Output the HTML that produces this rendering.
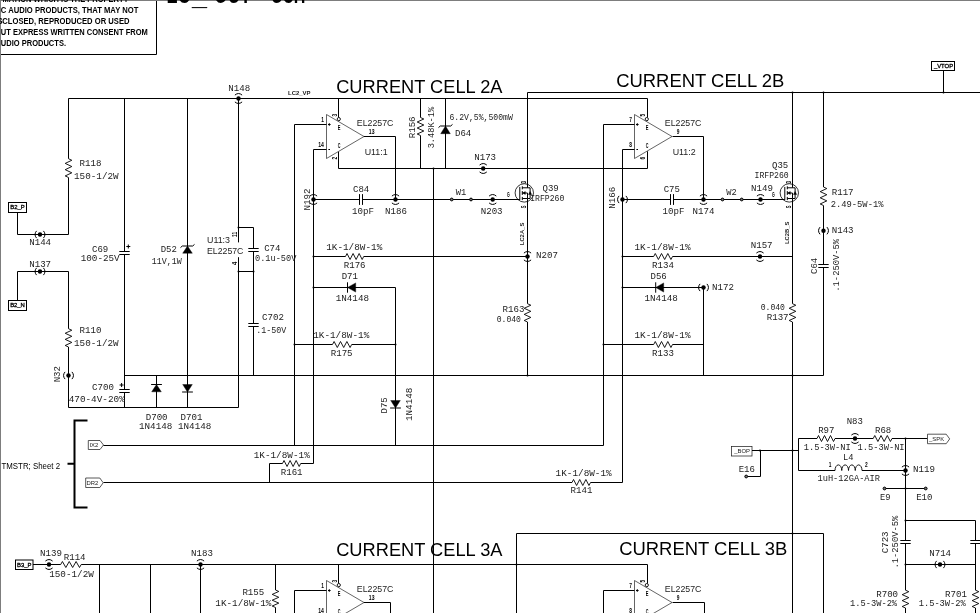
<!DOCTYPE html>
<html lang="en"><head><meta charset="utf-8">
<title>LC_OUT schematic - current cells 2A / 2B</title>
<style>
html,body{margin:0;padding:0;background:#fff}
body{width:980px;height:613px;overflow:hidden}
svg{display:block}
path,rect,circle{fill:none;stroke:#000;stroke-width:1}
.g{stroke:#7d7d7d}
.z{stroke-width:.9;stroke-linejoin:miter}
.a{stroke-width:1}
.k{stroke-width:1}
.t{stroke-width:.7;stroke:#222}
.w{stroke-width:2}
.q{stroke-width:.8}
.d{fill:#000;stroke:none}
.f{fill:#000;stroke:#000;stroke-width:.4}
.o{fill:#777;stroke-width:1}
.ow{fill:#fff;stroke-width:.9}
.b{fill:#fff;stroke-width:1}
text{fill:#000;font-family:"Liberation Mono",monospace;font-size:9px;white-space:pre}
.m{fill:#1c1c1c}
.s{font-family:"Liberation Sans",sans-serif;font-size:8.9px;fill:#1c1c1c}
.u{font-family:"Liberation Sans",sans-serif;font-size:8.6px}
.c{font-family:"Liberation Sans",sans-serif;font-size:17.6px;stroke:none;fill:#000}
.T{font-family:"Liberation Sans",sans-serif;font-size:27px;font-weight:bold}
.h{font-family:"Liberation Sans",sans-serif;font-size:8.5px;font-weight:bold}
.n{font-family:"Liberation Sans",sans-serif;font-size:6.3px;font-weight:bold}
.p{font-family:"Liberation Sans",sans-serif;font-size:5.9px;stroke:#000;stroke-width:.3px}
.l{font-family:"Liberation Sans",sans-serif;font-size:5.3px;font-weight:bold;fill:#222}
.pl{font-family:"Liberation Sans",sans-serif;font-size:5.9px;fill:#222}
.pp{stroke-width:.75;stroke:#222}
</style></head>
<body>
<svg width="980" height="613" viewBox="0 0 980 613">
<rect x="0" y="0" width="980" height="613" style="fill:#fff;stroke:none"/>
<path class="g" d="M0 0.5H980M0.5 0V613"/>
<path d="M1 54.5H156.5V1"/>
<path d="M68.5 98.5L647.5 98.5"/>
<path class="z" d="M68.5 158.7L71.8 160.27L65.2 163.4L71.8 166.53L65.2 169.67L71.8 172.8L65.2 175.93L68.5 177.5"/>
<path d="M68.5 98.5L68.5 158.7"/>
<path d="M68.5 177.5L68.5 234.5"/>
<path d="M17.5 234.5L68.5 234.5"/>
<path d="M17.5 212.5L17.5 234.5"/>
<rect class="b" x="8.5" y="202.5" width="18" height="10"/>
<circle class="d" cx="40" cy="234.5" r="2.2"/>
<path class="a" d="M36.55 230.9A5.6 5.6 0 0 0 36.55 238.1"/>
<path class="a" d="M43.45 230.9A5.6 5.6 0 0 1 43.45 238.1"/>
<circle class="d" cx="40" cy="271.5" r="2.2"/>
<path class="a" d="M36.55 267.9A5.6 5.6 0 0 0 36.55 275.1"/>
<path class="a" d="M43.45 267.9A5.6 5.6 0 0 1 43.45 275.1"/>
<path d="M17.5 271.5L68.5 271.5"/>
<path d="M17.5 271.5L17.5 300.5"/>
<rect class="b" x="8.5" y="300.5" width="18" height="10"/>
<path class="z" d="M68.5 328.7L71.8 330.22L65.2 333.27L71.8 336.32L65.2 339.38L71.8 342.43L65.2 345.48L68.5 347"/>
<path d="M68.5 271.5L68.5 328.7"/>
<path d="M68.5 347L68.5 407.5"/>
<circle class="d" cx="68.5" cy="375.5" r="2.2"/>
<path class="a" d="M65.05 371.9A5.6 5.6 0 0 0 65.05 379.1"/>
<path class="a" d="M71.95 371.9A5.6 5.6 0 0 1 71.95 379.1"/>
<path d="M68.5 407.5L238.5 407.5"/>
<path class="k" d="M119.3 251.5L129.7 251.5"/>
<path class="k" d="M119.3 254.5L129.7 254.5"/>
<path class="k" d="M119.3 389.5L129.7 389.5"/>
<path class="k" d="M119.3 392.5L129.7 392.5"/>
<path d="M124.5 98.5L124.5 251.5"/>
<path d="M124.5 254.5L124.5 389.5"/>
<path d="M124.5 392.5L124.5 407.5"/>
<path class="k" d="M126.3 246.5H130.3M128.3 244.5V248.5"/>
<path class="k" d="M119.6 385H123.6M121.6 383V387"/>
<path d="M187.5 98.5L187.5 407.5"/>
<path class="f" d="M182.7 253.2L192.3 253.2L187.5 246Z"/>
<path class="k" d="M180.5 247.6L182.3 246L192.7 246L194.5 244.4"/>
<path class="f" d="M182.7 384.5L192.3 384.5L187.5 392Z"/>
<path class="k" d="M182.1 392L192.9 392"/>
<path d="M156.5 375.5L156.5 407.5"/>
<path class="f" d="M151.7 391.8L161.3 391.8L156.5 384.5Z"/>
<path class="k" d="M151.1 384.5L161.9 384.5"/>
<path d="M238.5 98.5L238.5 242.4"/>
<path d="M238.5 257.2L238.5 407.5"/>
<circle class="d" cx="238.5" cy="98.5" r="2.2"/>
<path class="a" d="M234.9 95.05A5.6 5.6 0 0 1 242.1 95.05"/>
<path class="a" d="M234.9 101.95A5.6 5.6 0 0 0 242.1 101.95"/>
<circle class="d" cx="238.5" cy="227.5" r="1"/>
<circle class="d" cx="238.5" cy="271.5" r="1"/>
<path d="M124.5 375.5L823.5 375.5"/>
<path d="M238.5 227.5L253.5 227.5"/>
<path d="M238.5 271.5L253.5 271.5"/>
<path class="k" d="M248.3 248.5L258.7 248.5"/>
<path class="k" d="M248.3 251.5L258.7 251.5"/>
<path class="k" d="M248.3 323.5L258.7 323.5"/>
<path class="k" d="M248.3 326.5L258.7 326.5"/>
<path d="M253.5 227.5L253.5 248.5"/>
<path d="M253.5 251.5L253.5 323.5"/>
<path d="M253.5 326.5L253.5 375.5"/>
<circle class="d" cx="253.5" cy="271.5" r="1"/>
<path class="t" d="M326.5 114.5L326.5 158.5L364 136.5Z"/>
<circle class="ow" cx="338.8" cy="119.1" r="1.6"/>
<path class="a" d="M328 124.5h2.6M329.3 123.2v2.6"/>
<path class="a" d="M328.4 149.5h1.6"/>
<path d="M338.5 98.5L338.5 117.4"/>
<path d="M294.5 124.5L326.5 124.5"/>
<path d="M294.5 124.5L294.5 445.5"/>
<path d="M313.5 149.5L326.5 149.5"/>
<path d="M313.5 149.5L313.5 463.5"/>
<path d="M338.5 151.8L338.5 168.5"/>
<path d="M338.5 168.5L647.5 168.5"/>
<path d="M364 136.5L395.5 136.5"/>
<path d="M395.5 136.5L395.5 199.5"/>
<path class="k" d="M359.5 194.1L359.5 204.9"/>
<path class="k" d="M362.5 194.1L362.5 204.9"/>
<path d="M313.5 199.5L359.5 199.5"/>
<path d="M362.5 199.5L519.8 199.5"/>
<circle class="d" cx="313.5" cy="199.5" r="2.2"/>
<path class="a" d="M309.9 196.05A5.6 5.6 0 0 1 317.1 196.05"/>
<path class="a" d="M309.9 202.95A5.6 5.6 0 0 0 317.1 202.95"/>
<circle class="d" cx="395.5" cy="199.5" r="2.2"/>
<path class="a" d="M391.9 196.05A5.6 5.6 0 0 1 399.1 196.05"/>
<path class="a" d="M391.9 202.95A5.6 5.6 0 0 0 399.1 202.95"/>
<circle class="o" cx="451.7" cy="199.5" r="1.4"/>
<circle class="o" cx="471" cy="199.5" r="1.4"/>
<circle class="d" cx="492.7" cy="199.5" r="2.2"/>
<path class="a" d="M489.1 196.05A5.6 5.6 0 0 1 496.3 196.05"/>
<path class="a" d="M489.1 202.95A5.6 5.6 0 0 0 496.3 202.95"/>
<path class="z" d="M420.5 117.5L423.8 119L417.2 122L423.8 125L417.2 128L423.8 131L417.2 134L420.5 135.5"/>
<path d="M420.5 98.5L420.5 117.5"/>
<path d="M420.5 135.5L420.5 168.5"/>
<path d="M445.5 98.5L445.5 168.5"/>
<path class="f" d="M440.7 133.7L450.3 133.7L445.5 126Z"/>
<path class="k" d="M438.5 127.6L440.3 126L450.7 126L452.5 124.4"/>
<circle class="d" cx="433.5" cy="168.5" r="1"/>
<path d="M433.5 168.5L433.5 613"/>
<circle class="d" cx="483.2" cy="168.5" r="2.2"/>
<path class="a" d="M479.6 165.05A5.6 5.6 0 0 1 486.8 165.05"/>
<path class="a" d="M479.6 171.95A5.6 5.6 0 0 0 486.8 171.95"/>
<circle class="q" cx="524.3" cy="192.9" r="9.2"/>
<path class="k" d="M519.8 186.9L519.8 199.9"/>
<path class="k" d="M522.3 186.3L522.3 189.3"/>
<path class="k" d="M522.3 191.1L522.3 194.9"/>
<path class="k" d="M522.3 196.9L522.3 200.1"/>
<path class="k" d="M522.3 187.8L527.5 187.8"/>
<path class="k" d="M522.3 193L527.5 193"/>
<path class="k" d="M522.3 198.5L527.5 198.5"/>
<path class="k" d="M527.5 193L527.5 198.5"/>
<path class="f" d="M522.7 193L525.3 191.5L525.3 194.5Z"/>
<path class="k" d="M527.5 187.8L530.1 187.8L530.1 198.5L527.5 198.5"/>
<path class="f" d="M528.5 194.5L531.7 194.5L530.1 191.5Z"/>
<path class="z" d="M527.5 303.7L530.8 305.22L524.2 308.27L530.8 311.32L524.2 314.38L530.8 317.43L524.2 320.48L527.5 322"/>
<path d="M527.5 92.5L527.5 187.8"/>
<path d="M527.5 198.5L527.5 303.7"/>
<path d="M527.5 322L527.5 375.5"/>
<circle class="d" cx="527.5" cy="256.5" r="2.2"/>
<path class="a" d="M523.9 253.05A5.6 5.6 0 0 1 531.1 253.05"/>
<path class="a" d="M523.9 259.95A5.6 5.6 0 0 0 531.1 259.95"/>
<path class="z" d="M345.5 256.5L347.02 253.5L350.05 259.5L353.08 253.5L356.12 259.5L359.15 253.5L362.18 259.5L363.7 256.5"/>
<path d="M313.5 256.5L345.5 256.5"/>
<path d="M363.7 256.5L527.5 256.5"/>
<circle class="d" cx="313.5" cy="256.5" r="1"/>
<path d="M313.5 287.5L395.5 287.5"/>
<circle class="d" cx="313.5" cy="287.5" r="1"/>
<path class="f" d="M355.7 282.9L355.7 292.1L347.5 287.5Z"/>
<path class="k" d="M347.5 282.3L347.5 292.7"/>
<path d="M395.5 287.5L395.5 445.5"/>
<path class="z" d="M332.5 344.5L334.1 341.5L337.3 347.5L340.5 341.5L343.7 347.5L346.9 341.5L350.1 347.5L351.7 344.5"/>
<path d="M294.5 344.5L332.5 344.5"/>
<path d="M351.7 344.5L395.5 344.5"/>
<circle class="d" cx="294.5" cy="344.5" r="1"/>
<circle class="d" cx="395.5" cy="344.5" r="1"/>
<path class="f" d="M390.7 400.5L400.3 400.5L395.5 408Z"/>
<path class="k" d="M390.1 408L400.9 408"/>
<path class="w" d="M87.5 420.5H74.5V507.5H87.5M67.5 463.8H74.5"/>
<path class="b pp" d="M88.3 440.5L100 440.5L103.5 445L100 449.5L88.3 449.5Z"/>
<path class="b pp" d="M85.7 478L99.8 478L103.2 482.75L99.8 487.5L85.7 487.5Z"/>
<path d="M103.5 445.5L603.5 445.5"/>
<path class="z" d="M572 482.5L573.54 479.5L576.62 485.5L579.71 479.5L582.79 485.5L585.88 479.5L588.96 485.5L590.5 482.5"/>
<path d="M103.5 482.5L572 482.5"/>
<path d="M590.5 482.5L622.5 482.5"/>
<path class="z" d="M282.5 463.5L284.02 460.5L287.05 466.5L290.08 460.5L293.12 466.5L296.15 460.5L299.18 466.5L300.7 463.5"/>
<path d="M269.5 463.5L282.5 463.5"/>
<path d="M300.7 463.5L313.5 463.5"/>
<path d="M269.5 463.5L269.5 482.5"/>
<path d="M527.5 92.5L980 92.5"/>
<path class="t" d="M634.5 114.5L634.5 158.5L672 136.5Z"/>
<circle class="ow" cx="646.8" cy="119.1" r="1.6"/>
<path class="a" d="M636 124.5h2.6M637.3 123.2v2.6"/>
<path class="a" d="M636.4 149.5h1.6"/>
<path d="M647.5 98.5L647.5 117.4"/>
<path d="M647.5 151.3L647.5 168.5"/>
<path d="M603.5 124.5L634.5 124.5"/>
<path d="M603.5 124.5L603.5 445.5"/>
<path d="M622.5 149.5L634.5 149.5"/>
<path d="M622.5 149.5L622.5 482.5"/>
<path d="M672.5 136.5L703.5 136.5"/>
<path d="M703.5 136.5L703.5 199.5"/>
<path class="k" d="M670.5 194.1L670.5 204.9"/>
<path class="k" d="M673.5 194.1L673.5 204.9"/>
<path d="M622.5 199.5L670.5 199.5"/>
<path d="M673.5 199.5L784.8 199.5"/>
<circle class="d" cx="622.5" cy="199.5" r="2.2"/>
<path class="a" d="M619.05 195.9A5.6 5.6 0 0 0 619.05 203.1"/>
<path class="a" d="M625.95 195.9A5.6 5.6 0 0 1 625.95 203.1"/>
<circle class="d" cx="703.5" cy="199.5" r="2.2"/>
<path class="a" d="M699.9 196.05A5.6 5.6 0 0 1 707.1 196.05"/>
<path class="a" d="M699.9 202.95A5.6 5.6 0 0 0 707.1 202.95"/>
<circle class="o" cx="722.5" cy="199.5" r="1.4"/>
<circle class="o" cx="741.7" cy="199.5" r="1.4"/>
<circle class="d" cx="760.5" cy="199.5" r="2.2"/>
<path class="a" d="M756.9 196.05A5.6 5.6 0 0 1 764.1 196.05"/>
<path class="a" d="M756.9 202.95A5.6 5.6 0 0 0 764.1 202.95"/>
<circle class="q" cx="789.3" cy="192.9" r="9.2"/>
<path class="k" d="M784.8 186.9L784.8 199.9"/>
<path class="k" d="M787.3 186.3L787.3 189.3"/>
<path class="k" d="M787.3 191.1L787.3 194.9"/>
<path class="k" d="M787.3 196.9L787.3 200.1"/>
<path class="k" d="M787.3 187.8L792.5 187.8"/>
<path class="k" d="M787.3 193L792.5 193"/>
<path class="k" d="M787.3 198.5L792.5 198.5"/>
<path class="k" d="M792.5 193L792.5 198.5"/>
<path class="f" d="M787.7 193L790.3 191.5L790.3 194.5Z"/>
<path class="k" d="M792.5 187.8L795.1 187.8L795.1 198.5L792.5 198.5"/>
<path class="f" d="M793.5 194.5L796.7 194.5L795.1 191.5Z"/>
<path class="z" d="M792.5 303.7L795.8 305.22L789.2 308.27L795.8 311.32L789.2 314.38L795.8 317.43L789.2 320.48L792.5 322"/>
<path d="M792.5 92.5L792.5 187.8"/>
<path d="M792.5 198.5L792.5 303.7"/>
<path d="M792.5 322L792.5 613"/>
<circle class="d" cx="792.5" cy="92.5" r="1"/>
<path class="z" d="M653.7 256.5L655.27 253.5L658.4 259.5L661.53 253.5L664.67 259.5L667.8 253.5L670.93 259.5L672.5 256.5"/>
<path d="M622.5 256.5L653.7 256.5"/>
<path d="M672.5 256.5L792.5 256.5"/>
<circle class="d" cx="622.5" cy="256.5" r="1"/>
<circle class="d" cx="760" cy="256.5" r="2.2"/>
<path class="a" d="M756.4 253.05A5.6 5.6 0 0 1 763.6 253.05"/>
<path class="a" d="M756.4 259.95A5.6 5.6 0 0 0 763.6 259.95"/>
<path d="M622.5 287.5L703.5 287.5"/>
<circle class="d" cx="622.5" cy="287.5" r="1"/>
<path class="f" d="M663.7 282.9L663.7 292.1L655.7 287.5Z"/>
<path class="k" d="M655.7 282.3L655.7 292.7"/>
<circle class="d" cx="703.5" cy="287.5" r="2.2"/>
<path class="a" d="M700.05 283.9A5.6 5.6 0 0 0 700.05 291.1"/>
<path class="a" d="M706.95 283.9A5.6 5.6 0 0 1 706.95 291.1"/>
<path d="M703.5 287.5L703.5 375.5"/>
<path class="z" d="M653.7 344.5L655.27 341.5L658.4 347.5L661.53 341.5L664.67 347.5L667.8 341.5L670.93 347.5L672.5 344.5"/>
<path d="M603.5 344.5L653.7 344.5"/>
<path d="M672.5 344.5L703.5 344.5"/>
<circle class="d" cx="603.5" cy="344.5" r="1"/>
<circle class="d" cx="792.5" cy="375.5" r="1"/>
<circle class="d" cx="527.5" cy="375.5" r="1"/>
<path class="z" d="M823.5 187L826.8 188.54L820.2 191.62L826.8 194.71L820.2 197.79L826.8 200.88L820.2 203.96L823.5 205.5"/>
<path class="k" d="M818.3 264.5L828.7 264.5"/>
<path class="k" d="M818.3 267.5L828.7 267.5"/>
<path d="M823.5 92.5L823.5 187"/>
<path d="M823.5 205.5L823.5 264.5"/>
<path d="M823.5 267.5L823.5 375.5"/>
<circle class="d" cx="823.5" cy="92.5" r="1"/>
<circle class="d" cx="823.5" cy="230.7" r="2.2"/>
<path class="a" d="M820.05 227.1A5.6 5.6 0 0 0 820.05 234.3"/>
<path class="a" d="M826.95 227.1A5.6 5.6 0 0 1 826.95 234.3"/>
<rect class="b" x="931.5" y="61.5" width="23" height="9"/>
<path d="M943.5 70.5L943.5 92.5"/>
<circle class="d" cx="943.5" cy="92.5" r="1"/>
<rect class="b pp" x="731.5" y="446.5" width="20.5" height="9.5"/>
<path d="M752 450.5L798.5 450.5"/>
<circle class="d" cx="760" cy="450.5" r="1"/>
<circle class="d" cx="792.5" cy="450.5" r="1"/>
<path d="M760.5 450.5L760.5 476.5"/>
<path d="M747.5 476.5L760.5 476.5"/>
<circle class="o" cx="746.2" cy="476.5" r="1.4"/>
<path d="M798.5 438.5L798.5 470.5"/>
<path class="z" d="M817 438.5L818.5 435.5L821.5 441.5L824.5 435.5L827.5 441.5L830.5 435.5L833.5 441.5L835 438.5"/>
<path class="z" d="M873.2 438.5L874.77 435.5L877.9 441.5L881.03 435.5L884.17 441.5L887.3 435.5L890.43 441.5L892 438.5"/>
<path d="M798.5 438.5L817 438.5"/>
<path d="M835 438.5L873.2 438.5"/>
<path d="M892 438.5L927.5 438.5"/>
<circle class="d" cx="855" cy="438.5" r="2.2"/>
<path class="a" d="M851.4 435.05A5.6 5.6 0 0 1 858.6 435.05"/>
<path class="a" d="M851.4 441.95A5.6 5.6 0 0 0 858.6 441.95"/>
<path class="b pp" d="M927.5 434.2L946.2 434.2L949.7 438.95L946.2 443.7L927.5 443.7Z"/>
<path d="M798.5 470.5L835 470.5"/>
<path class="z" d="M835 470.5a3.375 5.6 0 0 1 6.75 0a3.375 5.6 0 0 1 6.75 0a3.375 5.6 0 0 1 6.75 0a3.375 5.6 0 0 1 6.75 0"/>
<path d="M862 470.5L905.5 470.5"/>
<path class="k" d="M900.3 540.5L910.7 540.5"/>
<path class="k" d="M900.3 543.5L910.7 543.5"/>
<path class="z" d="M905.5 590.2L908.8 591.68L902.2 594.65L908.8 597.62L902.2 600.58L908.8 603.55L902.2 606.52L905.5 608"/>
<path d="M905.5 438.5L905.5 540.5"/>
<path d="M905.5 543.5L905.5 590.2"/>
<path d="M905.5 608L905.5 613"/>
<circle class="d" cx="905.5" cy="438.5" r="1"/>
<circle class="d" cx="905.5" cy="470.5" r="2.2"/>
<path class="a" d="M901.9 467.05A5.6 5.6 0 0 1 909.1 467.05"/>
<path class="a" d="M901.9 473.95A5.6 5.6 0 0 0 909.1 473.95"/>
<path d="M885.8 488.5L924.4 488.5"/>
<circle class="o" cx="884.5" cy="488.5" r="1.4"/>
<circle class="o" cx="925.7" cy="488.5" r="1.4"/>
<circle class="d" cx="905.5" cy="488.5" r="1"/>
<path d="M905.5 520.5L975.5 520.5"/>
<circle class="d" cx="905.5" cy="520.5" r="1"/>
<path class="k" d="M970.3 540.5L980.7 540.5"/>
<path class="k" d="M970.3 543.5L980.7 543.5"/>
<path class="z" d="M975.5 590.2L978.8 591.68L972.2 594.65L978.8 597.62L972.2 600.58L978.8 603.55L972.2 606.52L975.5 608"/>
<path d="M975.5 520.5L975.5 540.5"/>
<path d="M975.5 543.5L975.5 590.2"/>
<path d="M975.5 608L975.5 613"/>
<path d="M905.5 564.5L975.5 564.5"/>
<circle class="d" cx="905.5" cy="564.5" r="1"/>
<circle class="d" cx="940" cy="564.5" r="2.2"/>
<path class="a" d="M936.55 560.9A5.6 5.6 0 0 0 936.55 568.1"/>
<path class="a" d="M943.45 560.9A5.6 5.6 0 0 1 943.45 568.1"/>
<rect class="b" x="15.5" y="560" width="17.5" height="9.5"/>
<path class="z" d="M60.7 564.5L62.41 561.5L65.83 567.5L69.24 561.5L72.66 567.5L76.08 561.5L79.49 567.5L81.2 564.5"/>
<path d="M33 564.5L60.7 564.5"/>
<path d="M81.2 564.5L647.5 564.5"/>
<circle class="d" cx="49" cy="564.5" r="2.2"/>
<path class="a" d="M45.4 561.05A5.6 5.6 0 0 1 52.6 561.05"/>
<path class="a" d="M45.4 567.95A5.6 5.6 0 0 0 52.6 567.95"/>
<path d="M99.5 564.5L99.5 613"/>
<path d="M150.5 564.5L150.5 613"/>
<path d="M200.5 564.5L200.5 613"/>
<circle class="d" cx="200.5" cy="564.5" r="2.2"/>
<path class="a" d="M196.9 561.05A5.6 5.6 0 0 1 204.1 561.05"/>
<path class="a" d="M196.9 567.95A5.6 5.6 0 0 0 204.1 567.95"/>
<path class="z" d="M275.5 590L278.8 591.46L272.2 594.38L278.8 597.29L272.2 600.21L278.8 603.12L272.2 606.04L275.5 607.5"/>
<path d="M275.5 564.5L275.5 590"/>
<path d="M275.5 607.5L275.5 613"/>
<path class="t" d="M326.5 580.5L326.5 624.5L364 602.5Z"/>
<circle class="ow" cx="338.8" cy="585.1" r="1.6"/>
<path class="a" d="M328 590.5h2.6M329.3 589.2v2.6"/>
<path class="a" d="M328.4 615.5h1.6"/>
<path d="M338.5 564.5L338.5 583.4"/>
<path d="M294.5 590.5L326.5 590.5"/>
<path d="M294.5 590.5L294.5 613"/>
<path d="M364 602.5L390.5 602.5"/>
<path d="M390.5 602.5L390.5 613"/>
<path d="M516.5 613V533.5H823.5V613"/>
<circle class="d" cx="516.5" cy="564.5" r="1"/>
<circle class="d" cx="792.5" cy="533.5" r="1"/>
<path class="t" d="M634.5 580.5L634.5 624.5L672 602.5Z"/>
<circle class="ow" cx="646.8" cy="585.1" r="1.6"/>
<path class="a" d="M636 590.5h2.6M637.3 589.2v2.6"/>
<path class="a" d="M636.4 615.5h1.6"/>
<path d="M647.5 564.5L647.5 583.4"/>
<path d="M603.5 590.5L634.5 590.5"/>
<path d="M603.5 590.5L603.5 613"/>
<path d="M672.5 602.5L704.5 602.5"/>
<path d="M704.5 602.5L704.5 613"/>
<g style="opacity:.999">
<text class="h" x="2.5" y="2" textLength="126" lengthAdjust="spacingAndGlyphs">MATION WHICH IS THE PROPERTY</text>
<text class="h" x="0.8" y="12.9" textLength="137.6" lengthAdjust="spacingAndGlyphs">C AUDIO PRODUCTS, THAT MAY NOT</text>
<text class="h" x="2.3" y="23.8" textLength="127.2" lengthAdjust="spacingAndGlyphs">CLOSED, REPRODUCED OR USED</text>
<text class="h" x="0.8" y="34.7" textLength="147" lengthAdjust="spacingAndGlyphs">UT EXPRESS WRITTEN CONSENT FROM</text>
<text class="h" x="0.8" y="45.7" textLength="65.2" lengthAdjust="spacingAndGlyphs">UDIO PRODUCTS.</text>
<text class="h" x="-3" y="23.8">S</text>
<text class="T" x="166.5" y="2.9" textLength="24" lengthAdjust="spacingAndGlyphs">LC</text>
<text class="T" x="192" y="4.6" textLength="15" lengthAdjust="spacingAndGlyphs">_</text>
<text class="T" x="214" y="2.9" textLength="37" lengthAdjust="spacingAndGlyphs">OUT</text>
<text class="T" x="271.5" y="2.9" textLength="34" lengthAdjust="spacingAndGlyphs">SCH</text>
<text class="m" x="79.5" y="166" textLength="21.9" lengthAdjust="spacingAndGlyphs">R118</text>
<text class="m" x="74" y="178.7" textLength="44.7" lengthAdjust="spacingAndGlyphs">150-1/2W</text>
<text class="p" x="17.5" y="209.25" text-anchor="middle">B2_P</text>
<text class="m" x="29.2" y="245.2" textLength="21.9" lengthAdjust="spacingAndGlyphs">N144</text>
<text class="m" x="29.2" y="266.7" textLength="21.9" lengthAdjust="spacingAndGlyphs">N137</text>
<text class="p" x="17.5" y="307.25" text-anchor="middle">B2_N</text>
<text class="m" x="79.5" y="333" textLength="21.9" lengthAdjust="spacingAndGlyphs">R110</text>
<text class="m" x="74" y="345.5" textLength="44.7" lengthAdjust="spacingAndGlyphs">150-1/2W</text>
<text class="m" x="60.3" y="382.3" textLength="16.2" lengthAdjust="spacingAndGlyphs" transform="rotate(-90 60.3 382.3)">N32</text>
<text class="m" x="92" y="251.7" textLength="16.2" lengthAdjust="spacingAndGlyphs">C69</text>
<text class="m" x="80.7" y="260.7" textLength="39" lengthAdjust="spacingAndGlyphs">100-25V</text>
<text class="m" x="92" y="389.5" textLength="21.9" lengthAdjust="spacingAndGlyphs">C700</text>
<text class="m" x="68.7" y="402" textLength="56.1" lengthAdjust="spacingAndGlyphs">470-4V-20%</text>
<text class="m" x="160.7" y="251.7" textLength="16.2" lengthAdjust="spacingAndGlyphs">D52</text>
<text class="m" x="151.7" y="263.7" textLength="30" lengthAdjust="spacingAndGlyphs">11V,1W</text>
<text class="m" x="145.7" y="420" textLength="21.9" lengthAdjust="spacingAndGlyphs">D700</text>
<text class="m" x="139" y="429.2" textLength="33.3" lengthAdjust="spacingAndGlyphs">1N4148</text>
<text class="m" x="180.5" y="420" textLength="21.9" lengthAdjust="spacingAndGlyphs">D701</text>
<text class="m" x="178" y="429.2" textLength="33.3" lengthAdjust="spacingAndGlyphs">1N4148</text>
<text class="m" x="228.3" y="90.5" textLength="21.9" lengthAdjust="spacingAndGlyphs">N148</text>
<text class="l" x="288" y="95" textLength="22.5" lengthAdjust="spacingAndGlyphs">LC2_VP</text>
<text class="s" x="207" y="243">U11:3</text>
<text class="s" x="207" y="253.7" textLength="36.4" lengthAdjust="spacingAndGlyphs">EL2257C</text>
<text class="n" x="236.6" y="236.9" textLength="5.2" lengthAdjust="spacingAndGlyphs" transform="rotate(-90 236.6 236.9)">11</text>
<text class="n" x="236.6" y="264.9" textLength="3.4" lengthAdjust="spacingAndGlyphs" transform="rotate(-90 236.6 264.9)">4</text>
<text class="m" x="264.2" y="251.2" textLength="16.2" lengthAdjust="spacingAndGlyphs">C74</text>
<text class="m" x="255" y="261.2" textLength="41.4" lengthAdjust="spacingAndGlyphs">0.1u-50V</text>
<text class="m" x="262" y="320" textLength="21.9" lengthAdjust="spacingAndGlyphs">C702</text>
<text class="m" x="256.2" y="333" textLength="30" lengthAdjust="spacingAndGlyphs">.1-50V</text>
<text class="c" x="336.2" y="93.2" textLength="166.3" lengthAdjust="spacingAndGlyphs">CURRENT CELL 2A</text>
<text class="n" x="336.8" y="116.4" textLength="2.7" lengthAdjust="spacingAndGlyphs" transform="rotate(-90 336.8 116.4)">3</text>
<text class="n" x="337" y="159.4" textLength="2.7" lengthAdjust="spacingAndGlyphs" transform="rotate(-90 337 159.4)">2</text>
<text class="n" x="323.9" y="121.5" textLength="2.7" lengthAdjust="spacingAndGlyphs" text-anchor="end">1</text>
<text class="n" x="323.9" y="146.5" textLength="5.7" lengthAdjust="spacingAndGlyphs" text-anchor="end">14</text>
<text class="n" x="368.8" y="134.3" textLength="5.7" lengthAdjust="spacingAndGlyphs">13</text>
<text class="n" x="337.7" y="129.5" textLength="2.7" lengthAdjust="spacingAndGlyphs">E</text>
<text class="n" x="337.7" y="148.1" textLength="2.7" lengthAdjust="spacingAndGlyphs">C</text>
<text class="s" x="356.8" y="125.5" textLength="36.6" lengthAdjust="spacingAndGlyphs">EL2257C</text>
<text class="s" x="364.7" y="154.7">U11:1</text>
<text class="m" x="309.5" y="210.5" textLength="21.9" lengthAdjust="spacingAndGlyphs" transform="rotate(-90 309.5 210.5)">N192</text>
<text class="m" x="353" y="191.7" textLength="16.2" lengthAdjust="spacingAndGlyphs">C84</text>
<text class="m" x="352" y="213.7" textLength="21.9" lengthAdjust="spacingAndGlyphs">10pF</text>
<text class="m" x="385" y="213.7" textLength="21.9" lengthAdjust="spacingAndGlyphs">N186</text>
<text class="m" x="455.7" y="195" textLength="10.5" lengthAdjust="spacingAndGlyphs">W1</text>
<text class="m" x="480.7" y="213.7" textLength="21.9" lengthAdjust="spacingAndGlyphs">N203</text>
<text class="m" x="415.5" y="138.3" textLength="21.9" lengthAdjust="spacingAndGlyphs" transform="rotate(-90 415.5 138.3)">R156</text>
<text class="m" x="434.5" y="148.3" textLength="41.4" lengthAdjust="spacingAndGlyphs" transform="rotate(-90 434.5 148.3)">3.48K-1%</text>
<text class="m" x="449.5" y="120" textLength="63.3" lengthAdjust="spacingAndGlyphs">6.2V,5%,500mW</text>
<text class="m" x="455" y="136" textLength="16.2" lengthAdjust="spacingAndGlyphs">D64</text>
<text class="m" x="474.2" y="160" textLength="21.9" lengthAdjust="spacingAndGlyphs">N173</text>
<text class="n" x="526.3" y="183.5" textLength="2.7" lengthAdjust="spacingAndGlyphs" transform="rotate(-90 526.3 183.5)">D</text>
<text class="n" x="526.3" y="208.3" textLength="2.7" lengthAdjust="spacingAndGlyphs" transform="rotate(-90 526.3 208.3)">S</text>
<text class="n" x="506.9" y="196.9" textLength="2.7" lengthAdjust="spacingAndGlyphs">G</text>
<text class="m" x="542.5" y="191" textLength="16.2" lengthAdjust="spacingAndGlyphs">Q39</text>
<text class="m" x="530.2" y="201" textLength="34.2" lengthAdjust="spacingAndGlyphs">IRFP260</text>
<text class="l" x="524.5" y="245.2" textLength="22.5" lengthAdjust="spacingAndGlyphs" transform="rotate(-90 524.5 245.2)">LC2A_S</text>
<text class="m" x="536" y="257.9" textLength="21.9" lengthAdjust="spacingAndGlyphs">N207</text>
<text class="m" x="502.5" y="311.7" textLength="21.9" lengthAdjust="spacingAndGlyphs">R163</text>
<text class="m" x="496.7" y="322" textLength="24.3" lengthAdjust="spacingAndGlyphs">0.040</text>
<text class="m" x="326.2" y="249.5" textLength="56.1" lengthAdjust="spacingAndGlyphs">1K-1/8W-1%</text>
<text class="m" x="343.7" y="268.2" textLength="21.9" lengthAdjust="spacingAndGlyphs">R176</text>
<text class="m" x="341.7" y="278.7" textLength="16.2" lengthAdjust="spacingAndGlyphs">D71</text>
<text class="m" x="335.7" y="301.2" textLength="33.3" lengthAdjust="spacingAndGlyphs">1N4148</text>
<text class="m" x="313.2" y="337.5" textLength="56.1" lengthAdjust="spacingAndGlyphs">1K-1/8W-1%</text>
<text class="m" x="330.7" y="355.7" textLength="21.9" lengthAdjust="spacingAndGlyphs">R175</text>
<text class="m" x="387" y="413.5" textLength="16.2" lengthAdjust="spacingAndGlyphs" transform="rotate(-90 387 413.5)">D75</text>
<text class="m" x="412" y="421" textLength="33.3" lengthAdjust="spacingAndGlyphs" transform="rotate(-90 412 421)">1N4148</text>
<text class="u" x="1.5" y="468.7" textLength="58.5" lengthAdjust="spacingAndGlyphs">TMSTR; Sheet 2</text>
<text class="pl" x="93.85" y="446.9" text-anchor="middle">IX2</text>
<text class="pl" x="92.45" y="484.65" text-anchor="middle">DR2</text>
<text class="m" x="253.7" y="457.5" textLength="56.1" lengthAdjust="spacingAndGlyphs">1K-1/8W-1%</text>
<text class="m" x="280.7" y="474.5" textLength="21.9" lengthAdjust="spacingAndGlyphs">R161</text>
<text class="m" x="555.6" y="476.2" textLength="56.1" lengthAdjust="spacingAndGlyphs">1K-1/8W-1%</text>
<text class="m" x="570.5" y="493.3" textLength="21.9" lengthAdjust="spacingAndGlyphs">R141</text>
<text class="c" x="616.2" y="87.2" textLength="168" lengthAdjust="spacingAndGlyphs">CURRENT CELL 2B</text>
<text class="n" x="644.8" y="116.4" textLength="2.7" lengthAdjust="spacingAndGlyphs" transform="rotate(-90 644.8 116.4)">5</text>
<text class="n" x="645" y="159.4" textLength="2.7" lengthAdjust="spacingAndGlyphs" transform="rotate(-90 645 159.4)">6</text>
<text class="n" x="631.9" y="121.5" textLength="2.7" lengthAdjust="spacingAndGlyphs" text-anchor="end">7</text>
<text class="n" x="631.9" y="146.5" textLength="2.7" lengthAdjust="spacingAndGlyphs" text-anchor="end">8</text>
<text class="n" x="676.8" y="134.3" textLength="2.7" lengthAdjust="spacingAndGlyphs">9</text>
<text class="n" x="645.7" y="129.5" textLength="2.7" lengthAdjust="spacingAndGlyphs">E</text>
<text class="n" x="645.7" y="148.1" textLength="2.7" lengthAdjust="spacingAndGlyphs">C</text>
<text class="s" x="664.8" y="125.5" textLength="36.6" lengthAdjust="spacingAndGlyphs">EL2257C</text>
<text class="s" x="672.7" y="154.7">U11:2</text>
<text class="m" x="615.5" y="208.7" textLength="21.9" lengthAdjust="spacingAndGlyphs" transform="rotate(-90 615.5 208.7)">N166</text>
<text class="m" x="663.7" y="191.7" textLength="16.2" lengthAdjust="spacingAndGlyphs">C75</text>
<text class="m" x="662.5" y="214" textLength="21.9" lengthAdjust="spacingAndGlyphs">10pF</text>
<text class="m" x="692.5" y="214" textLength="21.9" lengthAdjust="spacingAndGlyphs">N174</text>
<text class="m" x="726.2" y="195" textLength="10.5" lengthAdjust="spacingAndGlyphs">W2</text>
<text class="m" x="751" y="191.4" textLength="21.9" lengthAdjust="spacingAndGlyphs">N149</text>
<text class="n" x="791.3" y="183.5" textLength="2.7" lengthAdjust="spacingAndGlyphs" transform="rotate(-90 791.3 183.5)">D</text>
<text class="n" x="791.3" y="208.3" textLength="2.7" lengthAdjust="spacingAndGlyphs" transform="rotate(-90 791.3 208.3)">S</text>
<text class="n" x="771.9" y="196.9" textLength="2.7" lengthAdjust="spacingAndGlyphs">G</text>
<text class="m" x="772" y="168" textLength="16.2" lengthAdjust="spacingAndGlyphs">Q35</text>
<text class="m" x="754.5" y="177.5" textLength="34.2" lengthAdjust="spacingAndGlyphs">IRFP260</text>
<text class="l" x="788.6" y="244" textLength="22.5" lengthAdjust="spacingAndGlyphs" transform="rotate(-90 788.6 244)">LC2B_S</text>
<text class="m" x="750.7" y="248" textLength="21.9" lengthAdjust="spacingAndGlyphs">N157</text>
<text class="m" x="634.5" y="249.5" textLength="56.1" lengthAdjust="spacingAndGlyphs">1K-1/8W-1%</text>
<text class="m" x="652" y="268.2" textLength="21.9" lengthAdjust="spacingAndGlyphs">R134</text>
<text class="m" x="650.5" y="278.7" textLength="16.2" lengthAdjust="spacingAndGlyphs">D56</text>
<text class="m" x="644.5" y="301.2" textLength="33.3" lengthAdjust="spacingAndGlyphs">1N4148</text>
<text class="m" x="712" y="290" textLength="21.9" lengthAdjust="spacingAndGlyphs">N172</text>
<text class="m" x="634.5" y="337.5" textLength="56.1" lengthAdjust="spacingAndGlyphs">1K-1/8W-1%</text>
<text class="m" x="652" y="355.7" textLength="21.9" lengthAdjust="spacingAndGlyphs">R133</text>
<text class="m" x="760.7" y="309.5" textLength="24.3" lengthAdjust="spacingAndGlyphs">0.040</text>
<text class="m" x="766.7" y="320" textLength="21.9" lengthAdjust="spacingAndGlyphs">R137</text>
<text class="m" x="831.7" y="195" textLength="21.9" lengthAdjust="spacingAndGlyphs">R117</text>
<text class="m" x="830.7" y="206.7" textLength="52.8" lengthAdjust="spacingAndGlyphs">2.49-5W-1%</text>
<text class="m" x="831.7" y="232.7" textLength="21.9" lengthAdjust="spacingAndGlyphs">N143</text>
<text class="m" x="816.5" y="274" textLength="16.2" lengthAdjust="spacingAndGlyphs" transform="rotate(-90 816.5 274)">C64</text>
<text class="m" x="838.7" y="291.7" textLength="52.8" lengthAdjust="spacingAndGlyphs" transform="rotate(-90 838.7 291.7)">.1-250V-5%</text>
<text class="p" x="943.5" y="67.75" text-anchor="middle">_VTOP</text>
<text class="pl" x="742.2" y="453" text-anchor="middle">_BOP</text>
<text class="m" x="738.7" y="471.7" textLength="16.2" lengthAdjust="spacingAndGlyphs">E16</text>
<text class="m" x="818.2" y="432.5" textLength="16.2" lengthAdjust="spacingAndGlyphs">R97</text>
<text class="m" x="846.7" y="424.2" textLength="16.2" lengthAdjust="spacingAndGlyphs">N83</text>
<text class="m" x="875" y="432.5" textLength="16.2" lengthAdjust="spacingAndGlyphs">R68</text>
<text class="m" x="803.7" y="450" textLength="47.1" lengthAdjust="spacingAndGlyphs">1.5-3W-NI</text>
<text class="m" x="857.5" y="450" textLength="47.1" lengthAdjust="spacingAndGlyphs">1.5-3W-NI</text>
<text class="pl" x="936.55" y="440.85" text-anchor="middle">_SPK</text>
<text class="m" x="843" y="460" textLength="10.5" lengthAdjust="spacingAndGlyphs">L4</text>
<text class="n" x="828.7" y="467.3" textLength="2.7" lengthAdjust="spacingAndGlyphs">1</text>
<text class="n" x="865" y="467.3" textLength="2.7" lengthAdjust="spacingAndGlyphs">2</text>
<text class="m" x="817.5" y="480.5" textLength="62.5" lengthAdjust="spacingAndGlyphs">1uH-12GA-AIR</text>
<text class="m" x="913" y="471.9" textLength="21.9" lengthAdjust="spacingAndGlyphs">N119</text>
<text class="m" x="880" y="500" textLength="10.5" lengthAdjust="spacingAndGlyphs">E9</text>
<text class="m" x="916.2" y="500" textLength="16.2" lengthAdjust="spacingAndGlyphs">E10</text>
<text class="m" x="929.2" y="555.7" textLength="21.9" lengthAdjust="spacingAndGlyphs">N714</text>
<text class="m" x="888.3" y="553.3" textLength="21.9" lengthAdjust="spacingAndGlyphs" transform="rotate(-90 888.3 553.3)">C723</text>
<text class="m" x="898.3" y="568.5" textLength="52.8" lengthAdjust="spacingAndGlyphs" transform="rotate(-90 898.3 568.5)">.1-250V-5%</text>
<text class="m" x="876.2" y="597" textLength="21.9" lengthAdjust="spacingAndGlyphs">R700</text>
<text class="m" x="850" y="606.2" textLength="47.1" lengthAdjust="spacingAndGlyphs">1.5-3W-2%</text>
<text class="m" x="945" y="597" textLength="21.9" lengthAdjust="spacingAndGlyphs">R701</text>
<text class="m" x="918.7" y="606.2" textLength="47.1" lengthAdjust="spacingAndGlyphs">1.5-3W-2%</text>
<text class="p" x="24.25" y="566.5" text-anchor="middle">B3_P</text>
<text class="m" x="40" y="556" textLength="21.9" lengthAdjust="spacingAndGlyphs">N139</text>
<text class="m" x="63.7" y="559.7" textLength="21.9" lengthAdjust="spacingAndGlyphs">R114</text>
<text class="m" x="49.2" y="576.7" textLength="44.7" lengthAdjust="spacingAndGlyphs">150-1/2W</text>
<text class="m" x="191" y="556" textLength="21.9" lengthAdjust="spacingAndGlyphs">N183</text>
<text class="m" x="242.4" y="594.5" textLength="21.9" lengthAdjust="spacingAndGlyphs">R155</text>
<text class="m" x="215.3" y="606" textLength="56.1" lengthAdjust="spacingAndGlyphs">1K-1/8W-1%</text>
<text class="c" x="336.2" y="556.4" textLength="166.3" lengthAdjust="spacingAndGlyphs">CURRENT CELL 3A</text>
<text class="n" x="336.8" y="582.4" textLength="2.7" lengthAdjust="spacingAndGlyphs" transform="rotate(-90 336.8 582.4)">3</text>
<text class="n" x="337" y="625.4" textLength="2.7" lengthAdjust="spacingAndGlyphs" transform="rotate(-90 337 625.4)">2</text>
<text class="n" x="323.9" y="587.5" textLength="2.7" lengthAdjust="spacingAndGlyphs" text-anchor="end">1</text>
<text class="n" x="323.9" y="612.5" textLength="5.7" lengthAdjust="spacingAndGlyphs" text-anchor="end">14</text>
<text class="n" x="368.8" y="600.3" textLength="5.7" lengthAdjust="spacingAndGlyphs">13</text>
<text class="n" x="337.7" y="595.5" textLength="2.7" lengthAdjust="spacingAndGlyphs">E</text>
<text class="n" x="337.7" y="614.1" textLength="2.7" lengthAdjust="spacingAndGlyphs">C</text>
<text class="s" x="356.8" y="591.5" textLength="36.6" lengthAdjust="spacingAndGlyphs">EL2257C</text>
<text class="s" x="364.7" y="620.7">U11:1</text>
<text class="c" x="619.2" y="555.4" textLength="168" lengthAdjust="spacingAndGlyphs">CURRENT CELL 3B</text>
<text class="n" x="644.8" y="582.4" textLength="2.7" lengthAdjust="spacingAndGlyphs" transform="rotate(-90 644.8 582.4)">5</text>
<text class="n" x="645" y="625.4" textLength="2.7" lengthAdjust="spacingAndGlyphs" transform="rotate(-90 645 625.4)">6</text>
<text class="n" x="631.9" y="587.5" textLength="2.7" lengthAdjust="spacingAndGlyphs" text-anchor="end">7</text>
<text class="n" x="631.9" y="612.5" textLength="2.7" lengthAdjust="spacingAndGlyphs" text-anchor="end">8</text>
<text class="n" x="676.8" y="600.3" textLength="2.7" lengthAdjust="spacingAndGlyphs">9</text>
<text class="n" x="645.7" y="595.5" textLength="2.7" lengthAdjust="spacingAndGlyphs">E</text>
<text class="n" x="645.7" y="614.1" textLength="2.7" lengthAdjust="spacingAndGlyphs">C</text>
<text class="s" x="664.8" y="591.5" textLength="36.6" lengthAdjust="spacingAndGlyphs">EL2257C</text>
<text class="s" x="672.7" y="620.7">U11:2</text>
</g>
</svg>
</body></html>
